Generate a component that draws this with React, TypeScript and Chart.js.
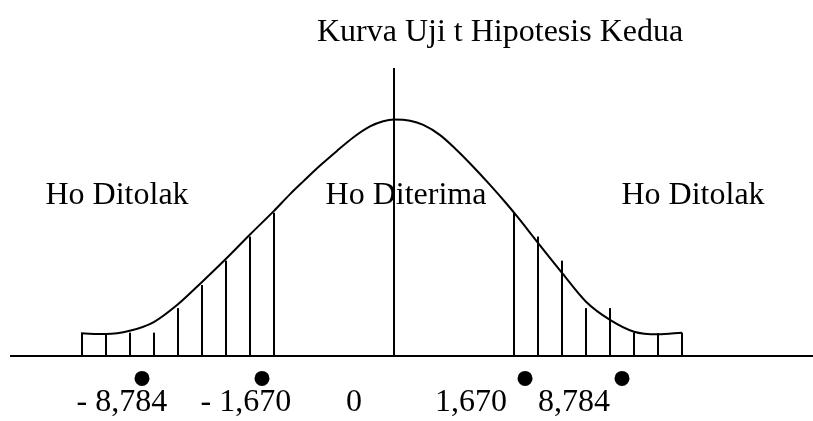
import React, { useEffect, useRef } from "react";
import { Chart, registerables } from "chart.js";

Chart.register(...registerables);

// ---- data (schematic units: x = hatch step, y = curve height with peak ~100) ----
const titleText = "Kurva Uji t Hipotesis Kedua";
const titlePos = [4.42, 133.5];

const curveX = [
  -13.04, -12.01, -11.01, -10.01, -9.04, -8.0, -7.01, -6.0, -5.01, -4.33, -3.78, -3.08, -2.39, -1.7, -1.0,
  -0.45, 0, 0.67, 1.22, 1.92, 2.61, 3.3, 4.0, 4.7, 5.18, 6.0, 7.0, 8.0, 9.0, 10.0, 11.0, 12.0,
];
const curveY = [
  9.6, 9.3, 10.7, 14.4, 21.6, 31.4, 41.1, 51.5, 61.4, 68.6, 74.0, 80.7, 86.8, 92.6, 97.3,
  99.5, 100.2, 99.7, 97.9, 93.6, 87.3, 80.2, 72.5, 64.4, 58.5, 47.9, 35.2, 23, 15.3, 10.3, 9.2, 9.9,
];

const hatchLeftX = [-13, -12, -11, -10, -9, -8, -7, -6, -5];
const hatchLeftH = [9.7, 9.7, 9.9, 9.9, 20.3, 30.1, 40.4, 50.6, 60.7];
const hatchRightX = [5, 6, 7, 8, 9, 10, 11, 12];
const hatchRightH = [60.7, 50.6, 40.4, 20.3, 20.3, 9.9, 9.7, 9.9];

const centerLineTop = 122;
const axisFrom = -16.0;
const axisTo = 18;

const dotX = [-10.5, -5.5, 5.46, 9.5];
const dotY = -9.5;

const tickLabels = ["- 8,784", "- 1,670", "0", "1,670", "8,784"];
const tickLabelX = [-11.34, -6.17, -1.67, 3.21, 7.5];
const tickLabelY = -23.5;

const regionLabels = ["Ho Ditolak", "Ho Diterima", "Ho Ditolak"];
const regionLabelX = [-11.54, 0.5, 12.46];
const regionLabelY = 64.4;

const xMin = -16.417;
const xMax = 17.458;
const yMin = -27.54;
const yMax = 150.85;

const FONT = '32px "Liberation Serif", "Times New Roman", serif';

const textPlugin = {
  id: "textLabels",
  afterDatasetsDraw(chart: any) {
    const { ctx, scales } = chart;
    const sx = scales.x;
    const sy = scales.y;
    ctx.save();
    ctx.font = FONT;
    ctx.fillStyle = "#000";
    ctx.textAlign = "center";
    ctx.textBaseline = "alphabetic";
    ctx.fillText(titleText, sx.getPixelForValue(titlePos[0]), sy.getPixelForValue(titlePos[1]));
    regionLabels.forEach((t, i) => {
      ctx.fillText(t, sx.getPixelForValue(regionLabelX[i]), sy.getPixelForValue(regionLabelY));
    });
    tickLabels.forEach((t, i) => {
      ctx.fillText(t, sx.getPixelForValue(tickLabelX[i]), sy.getPixelForValue(tickLabelY));
    });
    ctx.restore();
  },
};

export default function App() {
  const ref = useRef<HTMLCanvasElement | null>(null);

  useEffect(() => {
    if (!ref.current) return;
    const lineStyle = {
      borderColor: "#000",
      borderWidth: 2,
      pointRadius: 0,
      showLine: true,
      fill: false,
    };
    const hatchDatasets = [
      ...hatchLeftX.map((x, i) => ({ x, h: hatchLeftH[i] })),
      ...hatchRightX.map((x, i) => ({ x, h: hatchRightH[i] })),
    ].map((p) => ({
      ...lineStyle,
      data: [
        { x: p.x, y: 0 },
        { x: p.x, y: p.h },
      ],
    }));

    const chart = new Chart(ref.current, {
      type: "scatter",
      data: {
        datasets: [
          {
            ...lineStyle,
            data: [
              { x: axisFrom, y: 0 },
              { x: axisTo, y: 0 },
            ],
          },
          {
            ...lineStyle,
            cubicInterpolationMode: "monotone",
            data: curveX.map((x, i) => ({ x, y: curveY[i] })),
          },
          ...hatchDatasets,
          {
            ...lineStyle,
            data: [
              { x: 0, y: 0 },
              { x: 0, y: centerLineTop },
            ],
          },
          {
            data: dotX.map((x) => ({ x, y: dotY })),
            showLine: false,
            pointRadius: 7.5,
            pointBackgroundColor: "#000",
            pointBorderColor: "#000",
            pointBorderWidth: 0,
          },
        ] as any,
      },
      options: {
        animation: false,
        responsive: true,
        maintainAspectRatio: false,
        layout: { padding: 0, autoPadding: false },
        plugins: {
          legend: { display: false },
          tooltip: { enabled: false },
          title: { display: false },
        },
        scales: {
          x: { type: "linear", min: xMin, max: xMax, display: false },
          y: { type: "linear", min: yMin, max: yMax, display: false },
        },
      } as any,
      plugins: [textPlugin],
    });
    return () => chart.destroy();
  }, []);

  return (
    <div
      style={{
        position: "fixed",
        left: 0,
        top: 0,
        width: "813px",
        height: "421px",
        background: "#fff",
      }}
    >
      <canvas ref={ref} />
    </div>
  );
}
